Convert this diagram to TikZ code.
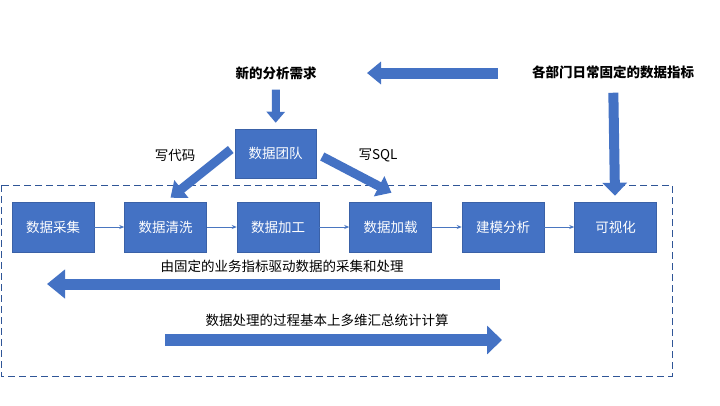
\documentclass[tikz,border=0pt]{standalone}
\usepackage{fontspec}
\setmainfont{Noto Sans CJK SC}
\usetikzlibrary{positioning,arrows.meta}
\definecolor{boxblue}{HTML}{4472C4}
\definecolor{framebl}{HTML}{2F5597}
\definecolor{flowbl}{HTML}{4A76C0}

\tikzset{
  stage/.style={rectangle, fill=boxblue, draw=boxblue!85!black, line width=0.5pt,
    minimum width=82pt, minimum height=50pt, inner sep=0pt, text=white,
    font=\fontsize{13.5}{16}\selectfont},
  caption/.style={inner sep=0pt, font=\fontsize{13.5}{16}\selectfont},
  heading/.style={inner sep=0pt, font=\fontsize{13.5}{16}\selectfont\bfseries},
  fatarrow/.style={draw=boxblue, line width=11pt, -{Triangle[width=26pt,length=15pt]}},
  flow/.style={draw=flowbl, line width=0.8pt, -{Stealth[length=5pt,width=4pt]}},
}

\begin{document}
\begin{tikzpicture}[x=1pt, y=-1pt]
    \useasboundingbox (0,0) rectangle (720,405);

    % frame round the pipeline
    \draw[framebl, line width=0.9pt, dash pattern=on 7pt off 4pt] (1,185) rectangle (672,376);

    \node[heading] (demand) at (276,73) {新的分析需求};
    \node[heading] (metrics) at (613,72) {各部门日常固定的数据指标};
    \node[stage, minimum width=81pt, minimum height=49pt] (team) at (275.5,153.5) {数据团队};

    \node[stage] (collect) at (53,227) {数据采集};
    \node[stage, right=30pt of collect] (clean) {数据清洗};
    \node[stage, right=30pt of clean] (process) {数据加工};
    \node[stage, right=30pt of process] (load) {数据加载};
    \node[stage, right=30pt of load] (model) {建模分析};
    \node[stage, right=30pt of model] (visual) {可视化};

    \foreach \a/\b in {collect/clean, clean/process, process/load, load/model, model/visual}
        \draw[flow] (\a) -- (\b);

    \node[caption] (code) at (175,155) {写代码};
    \node[caption] (sql) at (378,155) {写SQL};
    \node[caption] (drive) at (282,266) {由固定的业务指标驱动数据的采集和处理};
    \node[caption] (calc) at (327,320) {数据处理的过程基本上多维汇总统计计算};

    \coordinate (top0) at (498,73);
    \coordinate (top1) at (367,73);
    \coordinate (back0) at (500,284);
    \coordinate (back1) at (47,284);
    \coordinate (fwd0) at (165,340);
    \coordinate (fwd1) at (502,340);

    \draw[fatarrow, line width=11pt, -{Triangle[width=22pt,length=14pt]}] (top0) -- (top1);
    \draw[fatarrow, line width=8pt, -{Triangle[width=18pt,length=11pt]},
        shorten <=10pt, shorten >=6pt] (demand) -- (team);
    \draw[fatarrow, line width=10pt, -{Triangle[width=24pt,length=13pt]},
        shorten <=14pt, shorten >=6pt] (metrics) -- (visual);
    \draw[fatarrow, line width=9pt, -{Triangle[width=22pt,length=14pt]}]
        ([xshift=-4pt,yshift=4pt]team.west) -- ([xshift=5pt,yshift=4pt]clean.north);
    \draw[fatarrow, line width=9pt, -{Triangle[width=22pt,length=14pt]}]
        ([xshift=6pt,yshift=-3pt]team.east) -- ([xshift=1pt,yshift=9pt]load.north);
    \draw[fatarrow, -{Triangle[width=28pt,length=18pt]}] (back0) -- (back1);
    \draw[fatarrow, line width=12pt, -{Triangle[width=28pt,length=15pt]}] (fwd0) -- (fwd1);

\end{tikzpicture}
\end{document}
